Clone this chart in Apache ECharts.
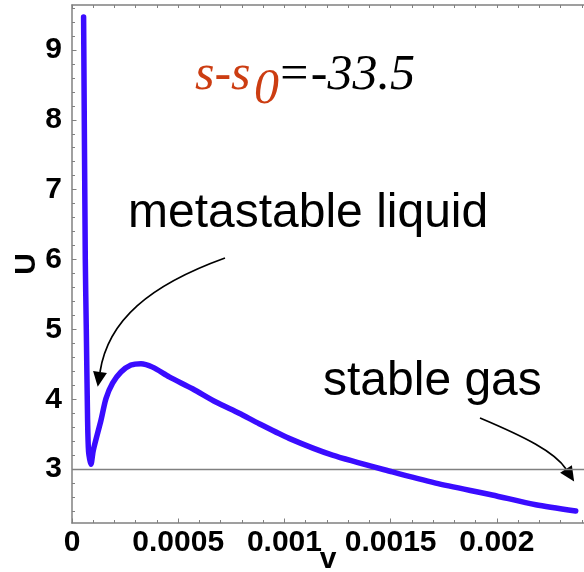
<!DOCTYPE html>
<html>
<head>
<meta charset="utf-8">
<script src="https://cdn.jsdelivr.net/npm/echarts@6/dist/echarts.min.js"></script>
<style>
  html, body { margin: 0; padding: 0; background: #fff; }
  #chart { width: 584px; height: 572px; }
</style>
</head>
<body>
<div id="chart"></div>
<script>
// curve: v (specific volume) and U
const vValues = [
  0.0000546, 0.0000626, 0.0000673, 0.0000734, 0.0000781, 0.0000894,
  0.0001002, 0.0001364, 0.0001599, 0.000191, 0.0002305, 0.0002775,
  0.0003246, 0.0003791, 0.0004577, 0.0005673, 0.0006773, 0.0007869,
  0.000881, 0.001022, 0.001226, 0.001508, 0.001712, 0.001978,
  0.002183, 0.002371,
];
const uValues = [
  9.47, 6.0, 5.0, 3.7, 3.25, 3.07,
  3.27, 3.7, 4.01, 4.23, 4.39, 4.49,
  4.51, 4.46, 4.32, 4.15, 3.96, 3.8,
  3.65, 3.44, 3.2, 2.96, 2.8, 2.63,
  2.49, 2.4,
];
const refU = 3;

const xTicks = [0, 0.0005, 0.001, 0.0015, 0.002];
const xMinorTicks = [
  0.0001, 0.0002, 0.0003, 0.0004, 0.0006, 0.0007, 0.0008, 0.0009,
  0.0011, 0.0012, 0.0013, 0.0014, 0.0016, 0.0017, 0.0018, 0.0019,
  0.0021, 0.0022, 0.0023, 0.0024,
];
const yTicks = [3, 4, 5, 6, 7, 8, 9];
const yMinorTicks = [
  2.4, 2.6, 2.8, 3.2, 3.4, 3.6, 3.8, 4.2, 4.4, 4.6, 4.8, 5.2, 5.4, 5.6, 5.8,
  6.2, 6.4, 6.6, 6.8, 7.2, 7.4, 7.6, 7.8, 8.2, 8.4, 8.6, 8.8, 9.2, 9.4, 9.6,
];

const X_MIN = 0, X_MAX = 0.00241;
const Y_MIN = 2.229, Y_MAX = 9.643;

const SANS = "'Liberation Sans', Arial, Helvetica, sans-serif";
const SERIF = "'Liberation Serif', 'Times New Roman', serif";
const GRAY = "#808080";

const chart = echarts.init(document.getElementById("chart"));

// ticks-only axis (minor ticks and the top frame)
const tickAxis = (extra) => Object.assign({
  type: "value",
  axisLine: { show: false, onZero: false },
  axisLabel: { show: false },
  splitLine: { show: false },
}, extra);

// curved annotation arrow, head follows the end tangent
const arrow = (x1, y1, cx1, cy1, cx2, cy2, x2, y2) => {
  const dx = x2 - cx2, dy = y2 - cy2;
  const len = Math.sqrt(dx * dx + dy * dy);
  const ux = dx / len, uy = dy / len;
  const headLen = 15, half = 7;
  return [
    {
      type: "bezierCurve",
      shape: { x1, y1, cpx1: cx1, cpy1: cy1, cpx2: cx2, cpy2: cy2, x2, y2 },
      style: { stroke: "#000", lineWidth: 1.7, fill: null },
    },
    {
      type: "polygon",
      shape: {
        points: [
          [x2 + ux * headLen, y2 + uy * headLen],
          [x2 - uy * half, y2 + ux * half],
          [x2 + uy * half, y2 - ux * half],
        ],
      },
      style: { fill: "#000" },
    },
  ];
};

const labelFont = { fontFamily: SANS, fontWeight: "bold", fontSize: 30, color: "#000" };

const option = {
  animation: false,
  backgroundColor: "#fff",
  grid: {
    left: 72,
    right: 0,
    top: 5,
    bottom: 49,
    containLabel: false,
    outerBoundsMode: "none",
  },
  xAxis: [
    {
      type: "value",
      min: X_MIN,
      max: X_MAX,
      position: "bottom",
      name: "v",
      nameLocation: "middle",
      nameGap: 22,
      nameMoveOverlap: false,
      nameTextStyle: Object.assign({ verticalAlign: "top" }, labelFont),
      axisLine: { show: true, onZero: false, lineStyle: { color: GRAY, width: 1.5 } },
      axisTick: { inside: true, length: 4.5, customValues: xTicks, lineStyle: { color: GRAY } },
      axisLabel: Object.assign({
        customValues: xTicks,
        margin: 5,
        formatter: (v) => String(v),
      }, labelFont),
      splitLine: { show: false },
    },
    tickAxis({
      min: X_MIN,
      max: X_MAX,
      position: "bottom",
      axisTick: { inside: true, length: 3, customValues: xMinorTicks, lineStyle: { color: GRAY } },
    }),
    tickAxis({
      min: X_MIN,
      max: X_MAX,
      position: "top",
      axisLine: { show: true, onZero: false, lineStyle: { color: GRAY, width: 1.5 } },
      axisTick: { inside: true, length: 3, customValues: xTicks.concat(xMinorTicks), lineStyle: { color: GRAY } },
    }),
  ],
  yAxis: [
    {
      type: "value",
      min: Y_MIN,
      max: Y_MAX,
      position: "left",
      name: "U",
      nameLocation: "middle",
      nameRotate: 90,
      nameGap: 30,
      nameMoveOverlap: false,
      nameTextStyle: labelFont,
      axisLine: { show: true, onZero: false, lineStyle: { color: GRAY, width: 1.5 } },
      axisTick: { inside: true, length: 4.5, customValues: yTicks, lineStyle: { color: GRAY } },
      axisLabel: Object.assign({
        customValues: yTicks,
        margin: 10,
        formatter: (v) => String(v),
      }, labelFont),
      splitLine: { show: false },
    },
    tickAxis({
      min: Y_MIN,
      max: Y_MAX,
      position: "left",
      axisTick: { inside: true, length: 3, customValues: yMinorTicks, lineStyle: { color: GRAY } },
    }),
  ],
  series: [
    {
      type: "line",
      xAxisIndex: 0,
      yAxisIndex: 0,
      data: vValues.map((v, i) => [v, uValues[i]]),
      showSymbol: false,
      smooth: 0.25,
      lineStyle: { color: "#3a0cff", width: 5.5, cap: "round", join: "round" },
      z: 3,
      markLine: {
        silent: true,
        symbol: "none",
        z: 1,
        label: { show: false },
        lineStyle: { color: GRAY, width: 1.3, type: "solid" },
        data: [{ yAxis: refU }],
      },
    },
  ],
  graphic: [
    {
      type: "text",
      left: 195,
      top: 51,
      style: { text: "s-s", fill: "#cc3d12", font: "italic 50px " + SERIF },
    },
    {
      type: "text",
      left: 254,
      top: 65,
      style: { text: "0", fill: "#cc3d12", font: "italic 50px " + SERIF },
    },
    {
      type: "text",
      left: 277,
      top: 51,
      style: { text: "=-33.5", fill: "#000", font: "italic 50px " + SERIF },
    },
    {
      type: "text",
      left: 128,
      top: 190,
      style: { text: "metastable liquid", fill: "#000", font: "48px " + SANS },
    },
    {
      type: "text",
      left: 323,
      top: 358,
      style: { text: "stable gas", fill: "#000", font: "48px " + SANS },
    },
    ...arrow(225, 258, 150, 285, 108, 320, 100, 372),
    ...arrow(480, 418, 525, 437, 555, 452, 566, 469),
  ],
};

chart.setOption(option);
</script>
</body>
</html>
